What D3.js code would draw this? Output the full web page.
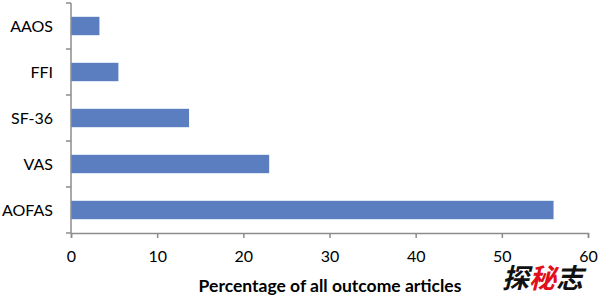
<!DOCTYPE html>
<html>
<head>
<meta charset="utf-8">
<script src="https://cdn.jsdelivr.net/npm/d3@7"></script>
<style>
  body { margin: 0; background: #fff; }
  svg text { font-family: Lato, "Open Sans", sans-serif; fill: #000; }
</style>
</head>
<body>
<div id="chart-area"></div>
<script>
// chart data
var categories = ["AAOS", "FFI", "SF-36", "VAS", "AOFAS"];
var percentages = [3.3, 5.5, 13.7, 23, 56];
var xTicks = [0, 10, 20, 30, 40, 50, 60];
var xTitle = "Percentage of all outcome articles";

var svg = d3.select("#chart-area").append("svg")
    .attr("width", 600)
    .attr("height", 298);

var x = d3.scaleLinear()
    .domain([0, 60])
    .range([71, 588]);

var y = d3.scaleBand()
    .domain(categories)
    .range([3, 233])
    .paddingInner(0.6)
    .paddingOuter(0.3);

var axisColor = "#8c8c8c";

// bars
svg.selectAll("rect.bar")
    .data(categories)
  .enter().append("rect")
    .attr("class", "bar")
    .attr("x", x(0))
    .attr("y", (d) => y(d))
    .attr("width", (d, i) => x(percentages[i]) - x(0))
    .attr("height", y.bandwidth())
    .attr("fill", "#5b7ec0");

// y axis: line with ticks at band edges
svg.append("line")
    .attr("x1", x(0)).attr("x2", x(0))
    .attr("y1", 3).attr("y2", 233)
    .attr("stroke", axisColor).attr("stroke-width", 1.5);

var edges = d3.range(categories.length + 1).map((i) => 3 + i * (230 / categories.length));
svg.selectAll("line.ytick")
    .data(edges)
  .enter().append("line")
    .attr("class", "ytick")
    .attr("x1", x(0) - 5).attr("x2", x(0))
    .attr("y1", (d) => d).attr("y2", (d) => d)
    .attr("stroke", axisColor).attr("stroke-width", 1.5);

svg.selectAll("text.ylab")
    .data(categories)
  .enter().append("text")
    .attr("class", "ylab")
    .attr("x", 53)
    .attr("y", (d) => y(d) + y.bandwidth() / 2)
    .attr("dy", "0.36em")
    .attr("text-anchor", "end")
    .attr("font-size", 16)
    .text((d) => d);

// x axis
var xAxis = svg.append("g")
    .attr("transform", "translate(0,233)")
    .call(d3.axisBottom(x).tickValues(xTicks).tickSize(5).tickPadding(13));
xAxis.select(".domain").attr("stroke", axisColor).attr("stroke-width", 1.5);
xAxis.selectAll(".tick line").attr("stroke", axisColor).attr("stroke-width", 1.5);
xAxis.selectAll(".tick text")
    .attr("font-size", 16)
    .attr("font-family", "Lato, 'Open Sans', sans-serif")
    .attr("fill", "#000");

svg.append("text")
    .attr("x", 330)
    .attr("y", 292)
    .attr("text-anchor", "middle")
    .attr("font-size", 17.5)
    .attr("font-weight", "bold")
    .text(xTitle);

// watermark
var wm = svg.append("text")
    .attr("x", 502)
    .attr("y", 288)
    .attr("font-size", 27)
    .attr("font-weight", "bold")
    .attr("font-style", "italic")
    .style("font-family", "'Noto Sans CJK SC', sans-serif");
wm.append("tspan").attr("fill", "#111").text("探");
wm.append("tspan").attr("fill", "#e0101a").text("秘");
wm.append("tspan").attr("fill", "#111").text("志");
</script>
</body>
</html>
